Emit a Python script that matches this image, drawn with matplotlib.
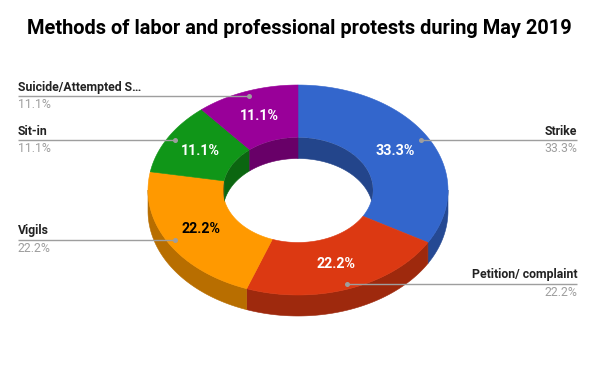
import numpy as np
import matplotlib
matplotlib.use("Agg")
import matplotlib.pyplot as plt
from matplotlib.patches import Polygon
from matplotlib.colors import to_rgb

# ---- data ----
title = "Methods of labor and professional protests during May 2019"
categories = ["Strike", "Petition/ complaint", "Vigils", "Sit-in", "Suicide/Attempted S\u2026"]
values = [3, 2, 2, 1, 1]
colors = ["#3366CC", "#DC3912", "#FF9900", "#109618", "#990099"]

# ---- layout (pixel coordinates) ----
W, H = 598, 372
cx, cy, rx, ry = 298, 190, 150, 105
depth = 21
hole = 0.5
plt.rcParams['font.family'] = ['Roboto', 'DejaVu Sans']

fig = plt.figure(figsize=(W / 100, H / 100), dpi=100)
ax = fig.add_axes([0, 0, 1, 1])
ax.set_xlim(0, W)
ax.set_ylim(H, 0)
ax.axis('off')


def pt(theta, r, dz=0.0):
    t = np.radians(theta)
    return cx + r * rx * np.sin(t), cy - r * ry * np.cos(t) + dz


def arc(a0, a1, r, dz=0.0, n=80):
    th = np.linspace(a0, a1, n)
    x, y = pt(th, r, dz)
    return np.column_stack([x, y])


def darker(c, f=0.72):
    r, g, b = to_rgb(c)
    return (r * f, g * f, b * f)


total = float(sum(values))
fracs = [v / total for v in values]
bounds = np.concatenate([[0], np.cumsum(fracs) * 360])

# outer side walls (front half: 90..270)
for i, c in enumerate(colors):
    a0, a1 = bounds[i], bounds[i + 1]
    lo, hi = max(a0, 90), min(a1, 270)
    if hi > lo:
        top = arc(lo, hi, 1.0)
        bot = arc(hi, lo, 1.0, depth)
        ax.add_patch(Polygon(np.vstack([top, bot]), closed=True, fc=darker(c),
                             ec=darker(c), lw=0.4, zorder=1))

# top faces
for i, c in enumerate(colors):
    a0, a1 = bounds[i], bounds[i + 1]
    outer = arc(a0, a1, 1.0)
    inner = arc(a1, a0, hole)
    ax.add_patch(Polygon(np.vstack([outer, inner]), closed=True, fc=c, ec=c,
                         lw=0.4, zorder=2))

# inner walls (back half visible through hole), clipped to the hole
hole_poly = Polygon(arc(0, 360, hole, 0, 200), closed=True, transform=ax.transData,
                    fc='none', ec='none')
ax.add_patch(hole_poly)
for i, c in enumerate(colors):
    a0, a1 = bounds[i], bounds[i + 1]
    for blo, bhi in [(0, 90), (270, 360)]:
        lo, hi = max(a0, blo), min(a1, bhi)
        if hi > lo:
            top = arc(lo, hi, hole)
            bot = arc(hi, lo, hole, depth)
            p = Polygon(np.vstack([top, bot]), closed=True, fc=darker(c, 0.68),
                        ec=darker(c, 0.68), lw=0.4, zorder=2)
            ax.add_patch(p)
            p.set_clip_path(hole_poly)

# percentage labels inside slices
for i, c in enumerate(colors):
    mid = (bounds[i] + bounds[i + 1]) / 2
    x, y = pt(mid, 0.75)
    r, g, b = to_rgb(c)
    lum = 0.299 * r + 0.587 * g + 0.114 * b
    tc = 'black' if lum > 0.6 else 'white'
    ax.text(x, y, f"{fracs[i] * 100:.1f}%", ha='center', va='center',
            fontsize=10.3, fontweight='bold', color=tc, zorder=4)

# leader lines and legend labels
line_c = '#9e9e9e'
for i, c in enumerate(colors):
    mid = (bounds[i] + bounds[i + 1]) / 2
    dx, dy = pt(mid, 0.95)
    right = np.sin(np.radians(mid)) > 0
    if right:
        x0, x1, tx, ha = dx, 577, 577, 'right'
    else:
        x0, x1, tx, ha = 18, dx, 18, 'left'
    ax.plot([x0, x1], [dy, dy], color=line_c, lw=1.0, zorder=3,
            solid_capstyle='butt')
    ax.plot([dx], [dy], 'o', ms=3.6, color=line_c, mec='none', zorder=5)
    ax.text(tx, dy - 2.5, categories[i], ha=ha, va='bottom', fontsize=8.8,
            fontweight='bold', color='#222222', zorder=4)
    ax.text(tx, dy + 2, f"{fracs[i] * 100:.1f}%", ha=ha, va='top', fontsize=8.8,
            color=line_c, zorder=4)

ax.text(299, 28, title, ha='center', va='center', fontsize=14.4,
        fontweight='bold', color='black')

fig.savefig("out.png", dpi=100)
